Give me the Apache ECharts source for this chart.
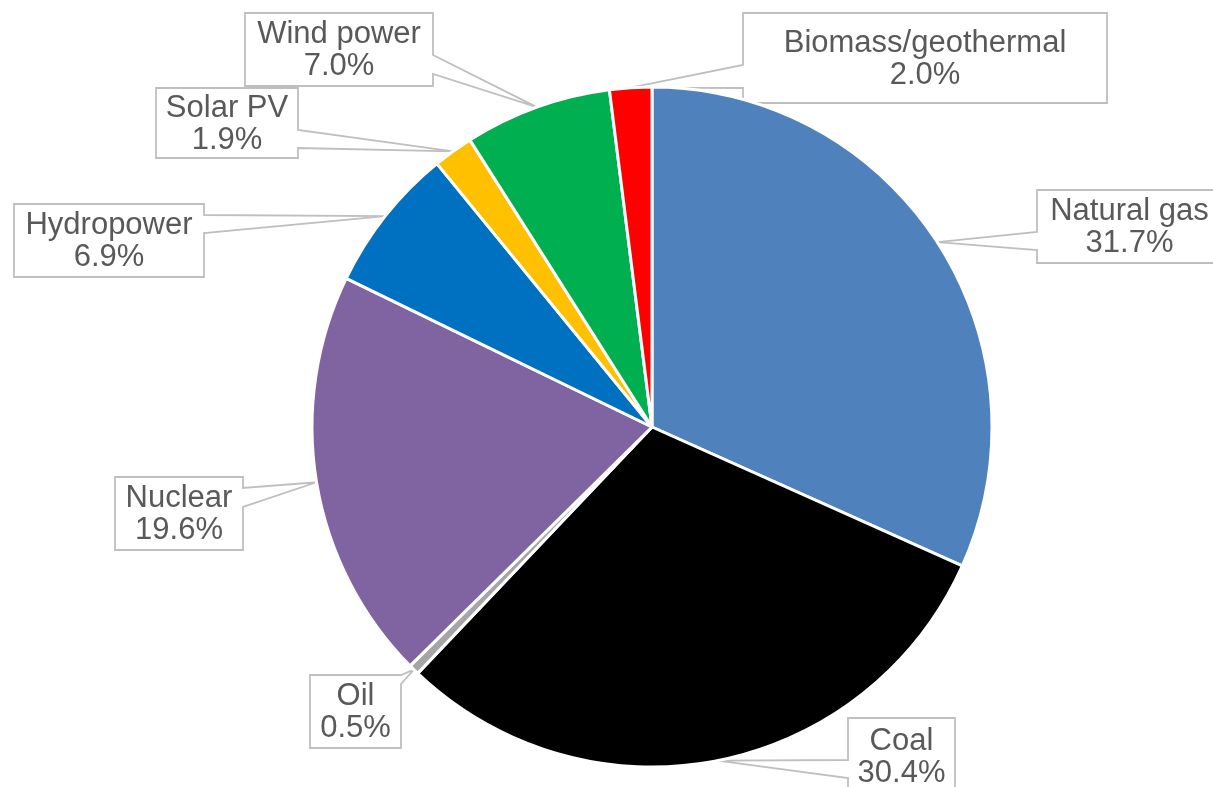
<!DOCTYPE html>
<html>
<head>
<meta charset="utf-8">
<script src="https://cdn.jsdelivr.net/npm/echarts@6/dist/echarts.min.js"></script>
<style>
  html, body { margin: 0; padding: 0; background: #ffffff; }
  #chart { width: 1213px; height: 787px; }
</style>
</head>
<body>
<div id="chart"></div>
<script>
// Electricity generation share by source (%), clockwise from 12 o'clock
const sources = ['Natural gas', 'Coal', 'Oil', 'Nuclear', 'Hydropower', 'Solar PV', 'Wind power', 'Biomass/geothermal'];
const shares = [31.7, 30.4, 0.5, 19.6, 6.9, 1.9, 7.0, 2.0];
const sliceColors = ['#4F81BD', '#000000', '#A5A5A5', '#8064A2', '#0070C0', '#FFC000', '#00B050', '#FF0000'];

// Callout boxes: [x0, y0, x1, y1], the side the pointer leaves from and its span on that side
const calloutBoxes = [
  { box: [1037, 190, 1222, 263], side: 'left',  span: [232, 250] },
  { box: [848, 718, 955, 795],   side: 'left',  span: [760, 778] },
  { box: [310, 675, 401, 748],   side: 'right', span: [675, 684] },
  { box: [115, 477, 243, 550],   side: 'right', span: [488, 507] },
  { box: [14, 204, 204, 277],    side: 'right', span: [215, 233] },
  { box: [156, 88, 298, 158],    side: 'right', span: [130, 148] },
  { box: [245, 13, 433, 86],     side: 'right', span: [55, 74] },
  { box: [743, 13, 1107, 103],   side: 'left',  span: [65, 88] }
];

const TEXT_COLOR = '#595959';
const FRAME_COLOR = '#BFBFBF';
const FONT = "'Liberation Sans', Arial, sans-serif";

const chart = echarts.init(document.getElementById('chart'), null, { renderer: 'canvas' });

chart.setOption({
  animation: false,
  backgroundColor: '#ffffff',
  series: [{
    type: 'pie',
    center: [652, 427],
    radius: 340,
    startAngle: 90,
    clockwise: true,
    avoidLabelOverlap: false,
    z: 2,
    itemStyle: { borderColor: '#ffffff', borderWidth: 3 },
    emphasis: { disabled: true },
    data: sources.map((name, i) => ({
      name: name,
      value: shares[i],
      itemStyle: { color: sliceColors[i] }
    })),
    label: {
      show: true,
      position: 'outside',
      formatter: p => p.name + '\n' + p.value.toFixed(1) + '%',
      fontFamily: FONT,
      fontSize: 31,
      lineHeight: 32,
      color: TEXT_COLOR,
      align: 'center'
    },
    labelLine: { show: false },
    labelLayout: function (params) {
      const b = calloutBoxes[params.dataIndex].box;
      return {
        x: (b[0] + b[2]) / 2,
        y: (b[1] + b[3]) / 2 + 1,
        align: 'center',
        verticalAlign: 'middle'
      };
    }
  }]
});

// Build callout outlines (box + pointer to the slice's outer edge)
function calloutPoints(c, tip) {
  const [x0, y0, x1, y1] = c.box;
  const [a, b] = c.span;
  switch (c.side) {
    case 'left':
      return [[x0, y0], [x1, y0], [x1, y1], [x0, y1], [x0, b], tip, [x0, a]];
    case 'right':
      return [[x0, y0], [x1, y0], [x1, a], tip, [x1, b], [x1, y1], [x0, y1]];
    case 'top':
      return [[x0, y0], [a, y0], tip, [b, y0], [x1, y0], [x1, y1], [x0, y1]];
    default:
      return [[x0, y0], [x1, y0], [x1, y1], [b, y1], tip, [a, y1], [x0, y1]];
  }
}

const pieData = chart.getModel().getSeriesByIndex(0).getData();
const callouts = calloutBoxes.map((c, i) => {
  const lay = pieData.getItemLayout(i);
  const mid = (lay.startAngle + lay.endAngle) / 2;
  const tip = [lay.cx + lay.r * Math.cos(mid), lay.cy + lay.r * Math.sin(mid)];
  return {
    type: 'polygon',
    z: 0,
    silent: true,
    shape: { points: calloutPoints(c, tip) },
    style: { fill: '#ffffff', stroke: FRAME_COLOR, lineWidth: 1.8, lineJoin: 'miter' }
  };
});

chart.setOption({ graphic: callouts });
</script>
</body>
</html>
